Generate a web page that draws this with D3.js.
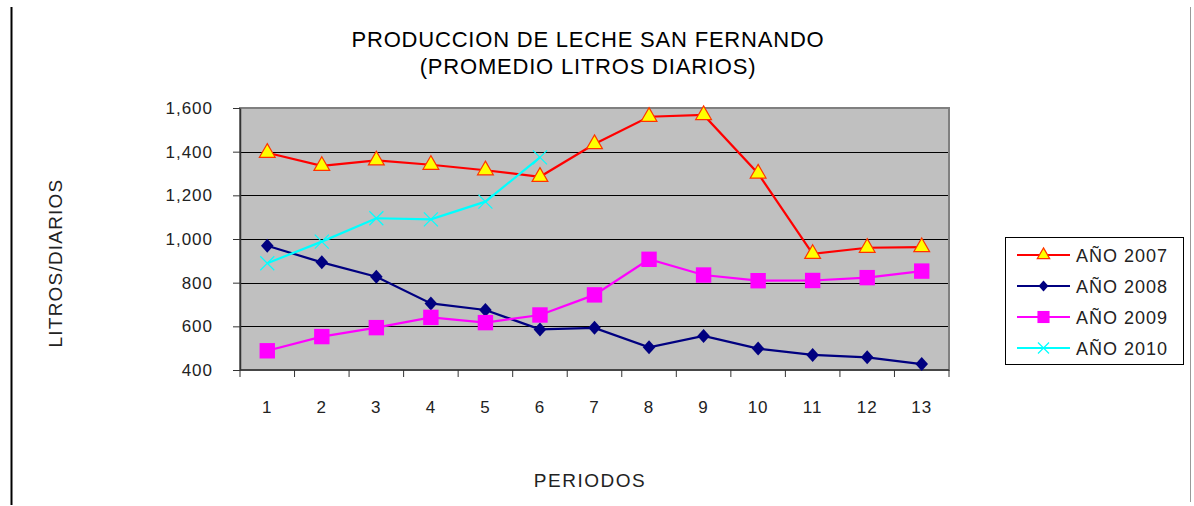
<!DOCTYPE html>
<html>
<head>
<meta charset="utf-8">
<script src="https://cdn.jsdelivr.net/npm/d3@7"></script>
<style>
  body { margin: 0; background: #fff; }
  svg { display: block; font-family: "Liberation Sans", Arial, sans-serif; }
</style>
</head>
<body>
<div id="chart"></div>
<script>
// Data
const periods = [1, 2, 3, 4, 5, 6, 7, 8, 9, 10, 11, 12, 13];
const yTicks = [400, 600, 800, 1000, 1200, 1400, 1600];
const anio2007 = [1395, 1335, 1360, 1340, 1315, 1285, 1435, 1560, 1568, 1300, 932, 960, 963];
const anio2008 = [969, 893, 827, 705, 675, 586, 593, 504, 556, 498, 469, 458, 427];
const anio2009 = [488, 553, 594, 641, 617, 652, 744, 907, 835, 809, 810, 823, 853];
const anio2010 = [889, 988, 1095, 1090, 1171, 1374];

const seriesList = [
    { name: 'AÑO 2007', values: anio2007, color: '#ff0000', marker: 'triangle' },
    { name: 'AÑO 2008', values: anio2008, color: '#000080', marker: 'diamond' },
    { name: 'AÑO 2009', values: anio2009, color: '#ff00ff', marker: 'square' },
    { name: 'AÑO 2010', values: anio2010, color: '#00ffff', marker: 'cross' }
];

const width = 1194, height = 506;
const plot = { left: 240, right: 949, top: 108, bottom: 370 };

const svg = d3.select('#chart').append('svg')
    .attr('width', width)
    .attr('height', height);

// Outer frame lines
svg.append('line')
    .attr('x1', 11.5).attr('x2', 11.5).attr('y1', 7).attr('y2', 505)
    .attr('stroke', '#000').attr('stroke-width', 2);
svg.append('line')
    .attr('x1', 1190.5).attr('x2', 1190.5).attr('y1', 7).attr('y2', 502)
    .attr('stroke', '#999').attr('stroke-width', 1);

// Scales
const x = d3.scaleBand()
    .domain(periods)
    .range([plot.left, plot.right]);

const y = d3.scaleLinear()
    .domain([400, 1600])
    .range([plot.bottom, plot.top]);

// Plot background
svg.append('rect')
    .attr('x', plot.left).attr('y', plot.top)
    .attr('width', plot.right - plot.left)
    .attr('height', plot.bottom - plot.top)
    .attr('fill', '#c0c0c0');

// Gridlines
svg.append('g')
    .selectAll('line')
    .data(yTicks.slice(1, -1))
    .join('line')
    .attr('x1', plot.left).attr('x2', plot.right)
    .attr('y1', d => Math.round(y(d)) + 0.5)
    .attr('y2', d => Math.round(y(d)) + 0.5)
    .attr('stroke', '#000')
    .attr('stroke-width', 1);

// Plot border
svg.append('rect')
    .attr('x', plot.left).attr('y', plot.top)
    .attr('width', plot.right - plot.left)
    .attr('height', plot.bottom - plot.top)
    .attr('fill', 'none')
    .attr('stroke', '#808080')
    .attr('stroke-width', 2);

// Y axis
const yAxis = d3.axisLeft(y)
    .tickValues(yTicks)
    .tickFormat(d3.format(','))
    .tickSize(7)
    .tickSizeOuter(0)
    .tickPadding(20);

svg.append('g')
    .attr('transform', `translate(${plot.left},0)`)
    .call(yAxis)
    .call(g => g.select('.domain').attr('stroke', '#333').attr('stroke-width', 1.5))
    .call(g => g.selectAll('.tick line').attr('stroke', '#333'))
    .call(g => g.selectAll('.tick text')
        .attr('font-size', 17)
        .attr('letter-spacing', 1)
        .attr('fill', '#222')
        .style('font-family', '"Liberation Sans", Arial, sans-serif'));

// X axis: ticks between categories
const xAxisG = svg.append('g')
    .attr('transform', `translate(0,${plot.bottom})`);

xAxisG.append('line')
    .attr('x1', plot.left).attr('x2', plot.right)
    .attr('stroke', '#333').attr('stroke-width', 1.5);

const boundaries = periods.map(p => x(p)).concat([x(periods[periods.length - 1]) + x.bandwidth()]);
xAxisG.selectAll('line.tk')
    .data(boundaries)
    .join('line')
    .attr('class', 'tk')
    .attr('x1', d => d).attr('x2', d => d)
    .attr('y1', 0).attr('y2', 7)
    .attr('stroke', '#333');

xAxisG.selectAll('text')
    .data(periods)
    .join('text')
    .attr('x', d => x(d) + x.bandwidth() / 2)
    .attr('y', 43)
    .attr('text-anchor', 'middle')
    .attr('font-size', 17)
    .attr('letter-spacing', 1)
    .attr('fill', '#222')
    .text(d => d);

// Lines and markers
const line = d3.line()
    .x((d, i) => x(periods[i]) + x.bandwidth() / 2)
    .y(d => y(d));

function drawMarker(g, type, color, size) {
    if (type === 'triangle') {
        g.append('path')
            .attr('d', d3.symbol(d3.symbolTriangle, size * size * 0.55)())
            .attr('fill', '#ffff00')
            .attr('stroke', '#ff3300')
            .attr('stroke-width', 1.2);
    } else if (type === 'diamond') {
        const s = size * 0.5;
        g.append('path')
            .attr('d', `M0,${-s}L${s * 0.9},0L0,${s}L${-s * 0.9},0Z`)
            .attr('fill', color);
    } else if (type === 'square') {
        const s = size * 0.55;
        g.append('rect')
            .attr('x', -s).attr('y', -s)
            .attr('width', 2 * s).attr('height', 2 * s)
            .attr('fill', color);
    } else if (type === 'cross') {
        const s = size * 0.5;
        g.append('path')
            .attr('d', `M${-s},${-s}L${s},${s}M${-s},${s}L${s},${-s}`)
            .attr('stroke', color)
            .attr('stroke-width', 1.2)
            .attr('fill', 'none');
    }
}

seriesList.forEach(s => {
    svg.append('path')
        .datum(s.values)
        .attr('d', line)
        .attr('fill', 'none')
        .attr('stroke', s.color)
        .attr('stroke-width', 2.2);

    s.values.forEach((v, i) => {
        const g = svg.append('g')
            .attr('transform', `translate(${x(periods[i]) + x.bandwidth() / 2},${y(v)})`);
        drawMarker(g, s.marker, s.color, 14);
    });
});

// Title
svg.append('text')
    .attr('x', 588).attr('y', 47)
    .attr('text-anchor', 'middle')
    .attr('font-size', 22)
    .attr('letter-spacing', 0.8)
    .attr('fill', '#000')
    .text('PRODUCCION DE LECHE SAN FERNANDO');
svg.append('text')
    .attr('x', 588).attr('y', 74)
    .attr('text-anchor', 'middle')
    .attr('font-size', 22)
    .attr('letter-spacing', 0.8)
    .attr('fill', '#000')
    .text('(PROMEDIO LITROS DIARIOS)');

// Axis titles
svg.append('text')
    .attr('transform', 'translate(62,263) rotate(-90)')
    .attr('text-anchor', 'middle')
    .attr('font-size', 19)
    .attr('letter-spacing', 1.2)
    .attr('fill', '#222')
    .text('LITROS/DIARIOS');

svg.append('text')
    .attr('x', 590).attr('y', 487)
    .attr('text-anchor', 'middle')
    .attr('font-size', 19)
    .attr('letter-spacing', 1.5)
    .attr('fill', '#222')
    .text('PERIODOS');

// Legend
const legend = svg.append('g');
legend.append('rect')
    .attr('x', 1005.5).attr('y', 237.5)
    .attr('width', 178).attr('height', 127)
    .attr('fill', '#fff')
    .attr('stroke', '#000');

seriesList.forEach((s, i) => {
    const cy = 255 + i * 31;
    legend.append('line')
        .attr('x1', 1017).attr('x2', 1070)
        .attr('y1', cy).attr('y2', cy)
        .attr('stroke', s.color)
        .attr('stroke-width', 2.2);
    const g = legend.append('g').attr('transform', `translate(1043.5,${cy})`);
    drawMarker(g, s.marker, s.color, 11);
    legend.append('text')
        .attr('x', 1076).attr('y', cy + 7)
        .attr('font-size', 18)
        .attr('letter-spacing', 1)
        .attr('fill', '#222')
        .text(s.name);
});
</script>
</body>
</html>
